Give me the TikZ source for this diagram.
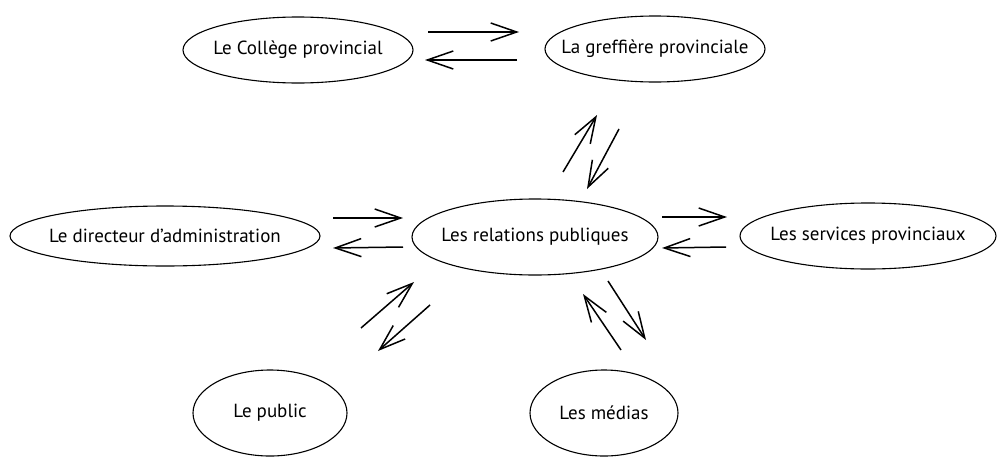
\documentclass[tikz,border=0pt]{standalone}
\usepackage{fontspec}
\setmainfont{PT Sans}
\usetikzlibrary{shapes.geometric,arrows.meta}
\begin{document}
\begin{tikzpicture}[x=1pt,y=-1pt,
  ent/.style={draw,ellipse,line width=1.1pt,inner sep=0pt,font=\fontsize{19}{22}\selectfont},
  flow/.style={line width=1.5pt,-{Straight Barb[length=26pt,width=18pt,line width=1.5pt]}}]
\useasboundingbox (0,0) rectangle (1003,466);
\newcommand\lbl[1]{\makebox[0pt]{#1}}
\node[ent,minimum width=230,minimum height=66] (college) at (298,50) {\lbl{Le Collège provincial}};
\node[ent,minimum width=220,minimum height=66] (greffe) at (655,49) {\lbl{La greffière provinciale}};
\node[ent,minimum width=310,minimum height=60] (dir) at (165,236) {\lbl{Le directeur d’administration}};
\node[ent,minimum width=246,minimum height=76] (rp) at (535,237) {\lbl{Les relations publiques}};
\node[ent,minimum width=256,minimum height=66] (serv) at (868,236) {\lbl{Les services provinciaux}};
\node[ent,minimum width=154,minimum height=86] (public) at (270,413) {\lbl{Le public}};
\node[ent,minimum width=148,minimum height=86] (medias) at (604,413) {\lbl{Les médias}};
% arrow end points
\coordinate (a1s) at (428,32); \coordinate (a1e) at (519,32);
\coordinate (a2s) at (517,60); \coordinate (a2e) at (425,60);
\coordinate (b1s) at (563,172); \coordinate (b1e) at (597,115);
\coordinate (b2s) at (619,129); \coordinate (b2e) at (587,189);
\coordinate (c1s) at (333,218); \coordinate (c1e) at (403,218);
\coordinate (c2s) at (403,247); \coordinate (c2e) at (333,248);
\coordinate (d1s) at (662,217); \coordinate (d1e) at (727,217);
\coordinate (d2s) at (726,247); \coordinate (d2e) at (662,248);
\coordinate (e1s) at (361,328); \coordinate (e1e) at (414,282);
\coordinate (e2s) at (430,305); \coordinate (e2e) at (378,351);
\coordinate (f1s) at (621,350); \coordinate (f1e) at (583,294);
\coordinate (f2s) at (608,281); \coordinate (f2e) at (646,340);
\foreach \p in {a1,a2,b1,b2,c1,c2,d1,d2,e1,e2,f1,f2}
  \draw[flow] (\p s) -- (\p e);
\end{tikzpicture}
\end{document}
